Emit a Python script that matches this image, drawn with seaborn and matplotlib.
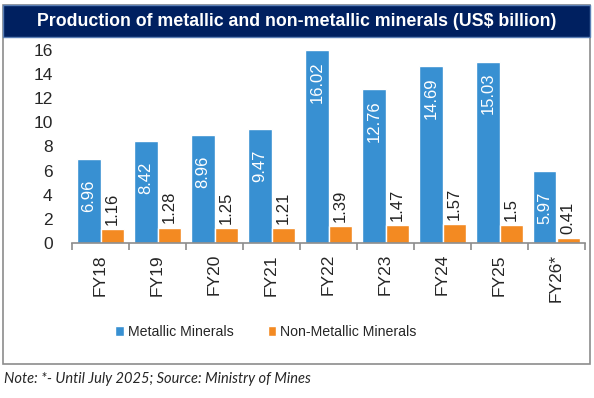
import numpy as np
import pandas as pd
import matplotlib
matplotlib.use("Agg")
import matplotlib.pyplot as plt
import seaborn as sns
from matplotlib.patches import Rectangle, Patch

years = ["FY18", "FY19", "FY20", "FY21", "FY22", "FY23", "FY24", "FY25", "FY26*"]
metallic = [6.96, 8.42, 8.96, 9.47, 16.02, 12.76, 14.69, 15.03, 5.97]
non_metallic = [1.16, 1.28, 1.25, 1.21, 1.39, 1.47, 1.57, 1.5, 0.41]
series = ["Metallic Minerals", "Non-Metallic Minerals"]
colors = ["#3890D2", "#F38A22"]

df = pd.DataFrame({
    "year": years * 2,
    "value": metallic + non_metallic,
    "series": [series[0]] * len(years) + [series[1]] * len(years),
})

sns.set_style("white")
plt.rcParams["font.family"] = ["Liberation Sans", "DejaVu Sans"]

W, H = 594, 398
fig = plt.figure(figsize=(W / 100, H / 100), dpi=100)

# outer frame and title bar
fig.patches.append(Rectangle((3 / W, 1 - 364 / H), 587 / W, 359 / H, transform=fig.transFigure,
                             facecolor="none", edgecolor="#8c8c8c", lw=1.2))
fig.patches.append(Rectangle((3 / W, 1 - 37 / H), 587 / W, 32 / H, transform=fig.transFigure,
                             facecolor="#002060", edgecolor="#5b7fb5", lw=1))
fig.text(297 / W, 1 - 21 / H, "Production of metallic and non-metallic minerals (US$ billion)",
         color="white", fontsize=12.8, fontweight="bold", ha="center", va="center")

ax = fig.add_axes([72 / W, 1 - 243 / H, 513 / W, 193 / H])
sns.barplot(data=df, x="year", y="value", hue="series", palette=colors, width=0.81,
            saturation=1, ax=ax, legend=False)

ax.set_ylim(0, 16)
ax.set_xlim(-0.5, len(years) - 0.5)
ax.set_yticks(range(0, 17, 2))
ax.set_xlabel("")
ax.set_ylabel("")
for s in ["top", "right", "left"]:
    ax.spines[s].set_visible(False)
ax.spines["bottom"].set_color("#8c8c8c")
ax.spines["bottom"].set_linewidth(1.2)
ax.set_xticks(np.arange(-0.5, len(years), 1), minor=True)
ax.tick_params(axis="x", which="minor", length=5, color="#8c8c8c", width=1.2, bottom=True)
ax.tick_params(axis="x", which="major", length=0, pad=8, labelrotation=90, labelsize=12.5)
ax.tick_params(axis="y", length=0, labelsize=12.5, pad=14)

ax.bar_label(ax.containers[0], labels=[f"{v:g}" for v in metallic], rotation=90,
             label_type="edge", padding=-38, color="white", fontsize=12)
ax.bar_label(ax.containers[1], labels=[f"{v:g}" for v in non_metallic], rotation=90,
             padding=3, color="#222222", fontsize=12)

handles = [Patch(facecolor=c, label=l) for c, l in zip(colors, series)]
fig.legend(handles=handles, loc="center", bbox_to_anchor=(266 / W, 1 - 332 / H), ncol=2,
           frameon=False, fontsize=10.2, handlelength=0.6, handleheight=0.7,
           handletextpad=0.3, columnspacing=2.4)

fig.text(4 / W, 1 - 379 / H, "Note: *- Until July 2025; Source: Ministry of Mines",
         fontsize=10.5, style="italic", ha="left", va="center", family=["Lato", "DejaVu Sans"])

fig.savefig("out.png", dpi=100)
